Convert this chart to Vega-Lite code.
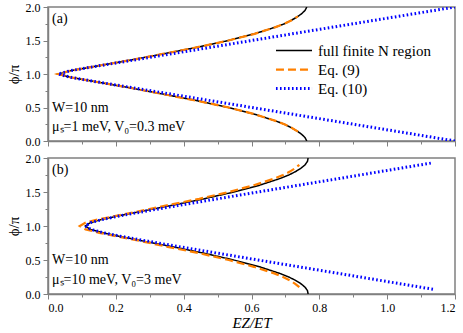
{
  "$schema": "https://vega.github.io/schema/vega-lite/v6.json",
  "padding": {"left": 5, "top": 0, "right": 2, "bottom": 0},
  "config": {
    "view": {"stroke": "#808080", "strokeWidth": 1.5},
    "font": "Liberation Serif, Times New Roman, serif",
    "text": {"font": "Liberation Serif, Times New Roman, serif"},
    "legend": {"labelFont": "Liberation Serif, Times New Roman, serif"},
    "axis": {"grid": false, "domainColor": "#808080", "domainWidth": 1.5, "tickColor": "#808080", "tickWidth": 1, "labelFont": "Liberation Serif, Times New Roman, serif", "labelFontSize": 12, "labelColor": "#000000", "titleFont": "Liberation Serif, Times New Roman, serif", "titleFontSize": 15, "titleFontWeight": "normal", "titleColor": "#000000", "labelPadding": 3}
  },
  "datasets": {
    "curves": [
      {"p":"a","s":"full finite N region","i":0,"y":0,"x":0.763},
      {"p":"a","s":"full finite N region","i":1,"y":0.05,"x":0.758},
      {"p":"a","s":"full finite N region","i":2,"y":0.1,"x":0.748},
      {"p":"a","s":"full finite N region","i":3,"y":0.15,"x":0.734},
      {"p":"a","s":"full finite N region","i":4,"y":0.2,"x":0.717},
      {"p":"a","s":"full finite N region","i":5,"y":0.25,"x":0.697},
      {"p":"a","s":"full finite N region","i":6,"y":0.3,"x":0.671},
      {"p":"a","s":"full finite N region","i":7,"y":0.4,"x":0.609},
      {"p":"a","s":"full finite N region","i":8,"y":0.5,"x":0.532},
      {"p":"a","s":"full finite N region","i":9,"y":0.6,"x":0.441},
      {"p":"a","s":"full finite N region","i":10,"y":0.7,"x":0.339},
      {"p":"a","s":"full finite N region","i":11,"y":0.8,"x":0.235},
      {"p":"a","s":"full finite N region","i":12,"y":0.9,"x":0.123},
      {"p":"a","s":"full finite N region","i":13,"y":0.95,"x":0.067},
      {"p":"a","s":"full finite N region","i":14,"y":1.0,"x":0.030},
      {"p":"a","s":"full finite N region","i":15,"y":1.05,"x":0.067},
      {"p":"a","s":"full finite N region","i":16,"y":1.1,"x":0.123},
      {"p":"a","s":"full finite N region","i":17,"y":1.2,"x":0.235},
      {"p":"a","s":"full finite N region","i":18,"y":1.3,"x":0.339},
      {"p":"a","s":"full finite N region","i":19,"y":1.4,"x":0.441},
      {"p":"a","s":"full finite N region","i":20,"y":1.5,"x":0.532},
      {"p":"a","s":"full finite N region","i":21,"y":1.6,"x":0.609},
      {"p":"a","s":"full finite N region","i":22,"y":1.7,"x":0.671},
      {"p":"a","s":"full finite N region","i":23,"y":1.75,"x":0.697},
      {"p":"a","s":"full finite N region","i":24,"y":1.8,"x":0.717},
      {"p":"a","s":"full finite N region","i":25,"y":1.85,"x":0.734},
      {"p":"a","s":"full finite N region","i":26,"y":1.9,"x":0.748},
      {"p":"a","s":"full finite N region","i":27,"y":1.95,"x":0.758},
      {"p":"a","s":"full finite N region","i":28,"y":2.0,"x":0.763},

      {"p":"a","s":"Eq. (9)","i":0,"y":0.14,"x":0.737},
      {"p":"a","s":"Eq. (9)","i":1,"y":0.2,"x":0.717},
      {"p":"a","s":"Eq. (9)","i":2,"y":0.25,"x":0.697},
      {"p":"a","s":"Eq. (9)","i":3,"y":0.3,"x":0.671},
      {"p":"a","s":"Eq. (9)","i":4,"y":0.4,"x":0.609},
      {"p":"a","s":"Eq. (9)","i":5,"y":0.5,"x":0.532},
      {"p":"a","s":"Eq. (9)","i":6,"y":0.6,"x":0.441},
      {"p":"a","s":"Eq. (9)","i":7,"y":0.7,"x":0.339},
      {"p":"a","s":"Eq. (9)","i":8,"y":0.8,"x":0.235},
      {"p":"a","s":"Eq. (9)","i":9,"y":0.9,"x":0.123},
      {"p":"a","s":"Eq. (9)","i":10,"y":0.95,"x":0.067},
      {"p":"a","s":"Eq. (9)","i":11,"y":1.0,"x":0.030},
      {"p":"a","s":"Eq. (9)","i":12,"y":1.05,"x":0.067},
      {"p":"a","s":"Eq. (9)","i":13,"y":1.1,"x":0.123},
      {"p":"a","s":"Eq. (9)","i":14,"y":1.2,"x":0.235},
      {"p":"a","s":"Eq. (9)","i":15,"y":1.3,"x":0.339},
      {"p":"a","s":"Eq. (9)","i":16,"y":1.4,"x":0.441},
      {"p":"a","s":"Eq. (9)","i":17,"y":1.5,"x":0.532},
      {"p":"a","s":"Eq. (9)","i":18,"y":1.6,"x":0.609},
      {"p":"a","s":"Eq. (9)","i":19,"y":1.7,"x":0.671},
      {"p":"a","s":"Eq. (9)","i":20,"y":1.75,"x":0.697},
      {"p":"a","s":"Eq. (9)","i":21,"y":1.8,"x":0.717},
      {"p":"a","s":"Eq. (9)","i":22,"y":1.86,"x":0.737},

      {"p":"a","s":"Eq. (10)","i":0,"y":0,"x":1.2},
      {"p":"a","s":"Eq. (10)","i":1,"y":0.5,"x":0.601},
      {"p":"a","s":"Eq. (10)","i":2,"y":0.9,"x":0.124},
      {"p":"a","s":"Eq. (10)","i":3,"y":0.95,"x":0.067},
      {"p":"a","s":"Eq. (10)","i":4,"y":1.0,"x":0.030},
      {"p":"a","s":"Eq. (10)","i":5,"y":1.05,"x":0.067},
      {"p":"a","s":"Eq. (10)","i":6,"y":1.1,"x":0.124},
      {"p":"a","s":"Eq. (10)","i":7,"y":1.5,"x":0.601},
      {"p":"a","s":"Eq. (10)","i":8,"y":2.0,"x":1.2},

      {"p":"b","s":"full finite N region","i":0,"y":0,"x":0.767},
      {"p":"b","s":"full finite N region","i":1,"y":0.05,"x":0.765},
      {"p":"b","s":"full finite N region","i":2,"y":0.1,"x":0.758},
      {"p":"b","s":"full finite N region","i":3,"y":0.15,"x":0.746},
      {"p":"b","s":"full finite N region","i":4,"y":0.2,"x":0.730},
      {"p":"b","s":"full finite N region","i":5,"y":0.25,"x":0.710},
      {"p":"b","s":"full finite N region","i":6,"y":0.3,"x":0.685},
      {"p":"b","s":"full finite N region","i":7,"y":0.4,"x":0.624},
      {"p":"b","s":"full finite N region","i":8,"y":0.5,"x":0.548},
      {"p":"b","s":"full finite N region","i":9,"y":0.6,"x":0.460},
      {"p":"b","s":"full finite N region","i":10,"y":0.7,"x":0.362},
      {"p":"b","s":"full finite N region","i":11,"y":0.8,"x":0.259},
      {"p":"b","s":"full finite N region","i":12,"y":0.85,"x":0.209},
      {"p":"b","s":"full finite N region","i":13,"y":0.9,"x":0.162},
      {"p":"b","s":"full finite N region","i":14,"y":0.95,"x":0.125},
      {"p":"b","s":"full finite N region","i":15,"y":1.0,"x":0.110},
      {"p":"b","s":"full finite N region","i":16,"y":1.05,"x":0.125},
      {"p":"b","s":"full finite N region","i":17,"y":1.1,"x":0.162},
      {"p":"b","s":"full finite N region","i":18,"y":1.15,"x":0.209},
      {"p":"b","s":"full finite N region","i":19,"y":1.2,"x":0.259},
      {"p":"b","s":"full finite N region","i":20,"y":1.3,"x":0.362},
      {"p":"b","s":"full finite N region","i":21,"y":1.4,"x":0.460},
      {"p":"b","s":"full finite N region","i":22,"y":1.5,"x":0.548},
      {"p":"b","s":"full finite N region","i":23,"y":1.6,"x":0.624},
      {"p":"b","s":"full finite N region","i":24,"y":1.7,"x":0.685},
      {"p":"b","s":"full finite N region","i":25,"y":1.75,"x":0.710},
      {"p":"b","s":"full finite N region","i":26,"y":1.8,"x":0.730},
      {"p":"b","s":"full finite N region","i":27,"y":1.85,"x":0.746},
      {"p":"b","s":"full finite N region","i":28,"y":1.9,"x":0.758},
      {"p":"b","s":"full finite N region","i":29,"y":1.95,"x":0.765},
      {"p":"b","s":"full finite N region","i":30,"y":2.0,"x":0.767},

      {"p":"b","s":"Eq. (9)","i":0,"y":0.1,"x":0.741},
      {"p":"b","s":"Eq. (9)","i":1,"y":0.15,"x":0.729},
      {"p":"b","s":"Eq. (9)","i":2,"y":0.2,"x":0.713},
      {"p":"b","s":"Eq. (9)","i":3,"y":0.25,"x":0.693},
      {"p":"b","s":"Eq. (9)","i":4,"y":0.3,"x":0.669},
      {"p":"b","s":"Eq. (9)","i":5,"y":0.4,"x":0.607},
      {"p":"b","s":"Eq. (9)","i":6,"y":0.5,"x":0.533},
      {"p":"b","s":"Eq. (9)","i":7,"y":0.6,"x":0.446},
      {"p":"b","s":"Eq. (9)","i":8,"y":0.7,"x":0.347},
      {"p":"b","s":"Eq. (9)","i":9,"y":0.8,"x":0.253},
      {"p":"b","s":"Eq. (9)","i":10,"y":0.85,"x":0.201},
      {"p":"b","s":"Eq. (9)","i":11,"y":0.9,"x":0.151},
      {"p":"b","s":"Eq. (9)","i":12,"y":0.95,"x":0.111},
      {"p":"b","s":"Eq. (9)","i":13,"y":1.0,"x":0.094},
      {"p":"b","s":"Eq. (9)","i":14,"y":1.05,"x":0.111},
      {"p":"b","s":"Eq. (9)","i":15,"y":1.1,"x":0.151},
      {"p":"b","s":"Eq. (9)","i":16,"y":1.15,"x":0.201},
      {"p":"b","s":"Eq. (9)","i":17,"y":1.2,"x":0.253},
      {"p":"b","s":"Eq. (9)","i":18,"y":1.3,"x":0.347},
      {"p":"b","s":"Eq. (9)","i":19,"y":1.4,"x":0.446},
      {"p":"b","s":"Eq. (9)","i":20,"y":1.5,"x":0.533},
      {"p":"b","s":"Eq. (9)","i":21,"y":1.6,"x":0.607},
      {"p":"b","s":"Eq. (9)","i":22,"y":1.7,"x":0.669},
      {"p":"b","s":"Eq. (9)","i":23,"y":1.75,"x":0.693},
      {"p":"b","s":"Eq. (9)","i":24,"y":1.8,"x":0.713},
      {"p":"b","s":"Eq. (9)","i":25,"y":1.85,"x":0.729},
      {"p":"b","s":"Eq. (9)","i":26,"y":1.9,"x":0.741},

      {"p":"b","s":"Eq. (10)","i":0,"y":0.07,"x":1.135},
      {"p":"b","s":"Eq. (10)","i":1,"y":0.3,"x":0.860},
      {"p":"b","s":"Eq. (10)","i":2,"y":0.5,"x":0.619},
      {"p":"b","s":"Eq. (10)","i":3,"y":0.7,"x":0.382},
      {"p":"b","s":"Eq. (10)","i":4,"y":0.8,"x":0.268},
      {"p":"b","s":"Eq. (10)","i":5,"y":0.85,"x":0.213},
      {"p":"b","s":"Eq. (10)","i":6,"y":0.9,"x":0.164},
      {"p":"b","s":"Eq. (10)","i":7,"y":0.95,"x":0.126},
      {"p":"b","s":"Eq. (10)","i":8,"y":1.0,"x":0.110},
      {"p":"b","s":"Eq. (10)","i":9,"y":1.05,"x":0.126},
      {"p":"b","s":"Eq. (10)","i":10,"y":1.1,"x":0.164},
      {"p":"b","s":"Eq. (10)","i":11,"y":1.15,"x":0.213},
      {"p":"b","s":"Eq. (10)","i":12,"y":1.2,"x":0.268},
      {"p":"b","s":"Eq. (10)","i":13,"y":1.3,"x":0.382},
      {"p":"b","s":"Eq. (10)","i":14,"y":1.5,"x":0.619},
      {"p":"b","s":"Eq. (10)","i":15,"y":1.7,"x":0.860},
      {"p":"b","s":"Eq. (10)","i":16,"y":1.93,"x":1.135}
    ],
    "notes": [
      {"p":"a","x":0.012,"y":1.82,"t":"(a)"},
      {"p":"a","x":0.012,"y":0.5,"t":"W=10 nm"},
      {"p":"a","x":0.012,"y":0.21,"t":"μₛ=1 meV, V₀=0.3 meV"},
      {"p":"b","x":0.012,"y":1.82,"t":"(b)"},
      {"p":"b","x":0.012,"y":0.5,"t":"W=10 nm"},
      {"p":"b","x":0.012,"y":0.21,"t":"μₛ=10 meV, V₀=3 meV"}
    ]
  },
  "spacing": 3,
  "resolve": {"legend": {"color": "independent", "strokeDash": "independent", "strokeWidth": "independent"}},
  "vconcat": [
    {
      "width": 407, "height": 134,
      "layer": [
        {
          "data": {"name": "curves"},
          "transform": [{"filter": "datum.p === 'a'"}],
          "mark": {"type": "line", "clip": true},
          "encoding": {
            "x": {"field": "x", "type": "quantitative", "scale": {"domain": [0, 1.2], "nice": false, "zero": false},
                  "axis": {"orient": "bottom", "values": [0, 0.2, 0.4, 0.6, 0.8, 1.0, 1.2], "labels": false, "title": null, "tickSize": 5}},
            "y": {"field": "y", "type": "quantitative", "scale": {"domain": [0, 2], "nice": false, "zero": false},
                  "axis": {"orient": "left", "values": [0, 0.5, 1, 1.5, 2], "format": ".1f", "title": "ϕ/π", "tickSize": 5, "titlePadding": 4}},
            "order": {"field": "i", "type": "quantitative"},
            "color": {"field": "s", "type": "nominal",
                      "scale": {"domain": ["full finite N region", "Eq. (9)", "Eq. (10)"], "range": ["#000000", "#ff8000", "#0000ff"]},
                      "legend": {"orient": "none", "legendX": 226, "legendY": 34, "title": null, "labelFont": "Liberation Serif, Times New Roman, serif", "labelFontSize": 15, "labelColor": "#000000", "symbolType": "stroke", "symbolSize": 1300, "clipHeight": 19, "rowPadding": 0, "labelOffset": 4}},
            "strokeDash": {"field": "s", "type": "nominal",
                      "scale": {"domain": ["full finite N region", "Eq. (9)", "Eq. (10)"], "range": [[1, 0], [8, 4], [1.6, 2.4]]}},
            "strokeWidth": {"field": "s", "type": "nominal",
                      "scale": {"domain": ["full finite N region", "Eq. (9)", "Eq. (10)"], "range": [1.5, 3, 1.6]}}
          }
        },
        {
          "data": {"name": "notes"},
          "transform": [{"filter": "datum.p === 'a'"}],
          "mark": {"type": "text", "align": "left", "baseline": "middle", "font": "Liberation Serif, Times New Roman, serif", "fontSize": 14, "color": "#000000"},
          "encoding": {
            "x": {"field": "x", "type": "quantitative", "axis": {"orient": "bottom", "values": [0.1, 0.3, 0.5, 0.7, 0.9, 1.1], "labels": false, "domain": false, "title": null, "tickSize": 3}},
            "y": {"field": "y", "type": "quantitative", "axis": {"orient": "left", "values": [0.25, 0.75, 1.25, 1.75], "labels": false, "domain": false, "title": null, "tickSize": 3}},
            "text": {"field": "t", "type": "nominal"}
          }
        }
      ],
      "resolve": {"axis": {"x": "independent", "y": "independent"}}
    },
    {
      "width": 407, "height": 136,
      "layer": [
        {
          "data": {"name": "curves"},
          "transform": [{"filter": "datum.p === 'b'"}],
          "mark": {"type": "line", "clip": true},
          "encoding": {
            "x": {"field": "x", "type": "quantitative", "scale": {"domain": [0, 1.2], "nice": false, "zero": false},
                  "axis": {"orient": "bottom", "values": [0, 0.2, 0.4, 0.6, 0.8, 1.0, 1.2], "format": ".1f", "title": "EZ/ET", "titleFontStyle": "italic", "tickSize": 5, "titlePadding": 2}},
            "y": {"field": "y", "type": "quantitative", "scale": {"domain": [0, 2], "nice": false, "zero": false},
                  "axis": {"orient": "left", "values": [0, 0.5, 1, 1.5, 2], "format": ".1f", "title": "ϕ/π", "tickSize": 5, "titlePadding": 4}},
            "order": {"field": "i", "type": "quantitative"},
            "color": {"field": "s", "type": "nominal",
                      "scale": {"domain": ["full finite N region", "Eq. (9)", "Eq. (10)"], "range": ["#000000", "#ff8000", "#0000ff"]}, "legend": null},
            "strokeDash": {"field": "s", "type": "nominal",
                      "scale": {"domain": ["full finite N region", "Eq. (9)", "Eq. (10)"], "range": [[1, 0], [8, 4], [1.6, 2.4]]}, "legend": null},
            "strokeWidth": {"field": "s", "type": "nominal",
                      "scale": {"domain": ["full finite N region", "Eq. (9)", "Eq. (10)"], "range": [1.5, 3, 1.6]}, "legend": null}
          }
        },
        {
          "data": {"name": "notes"},
          "transform": [{"filter": "datum.p === 'b'"}],
          "mark": {"type": "text", "align": "left", "baseline": "middle", "font": "Liberation Serif, Times New Roman, serif", "fontSize": 14, "color": "#000000"},
          "encoding": {
            "x": {"field": "x", "type": "quantitative", "axis": {"orient": "bottom", "values": [0.1, 0.3, 0.5, 0.7, 0.9, 1.1], "labels": false, "domain": false, "title": null, "tickSize": 3}},
            "y": {"field": "y", "type": "quantitative", "axis": {"orient": "left", "values": [0.25, 0.75, 1.25, 1.75], "labels": false, "domain": false, "title": null, "tickSize": 3}},
            "text": {"field": "t", "type": "nominal"}
          }
        }
      ],
      "resolve": {"axis": {"x": "independent", "y": "independent"}}
    }
  ]
}
